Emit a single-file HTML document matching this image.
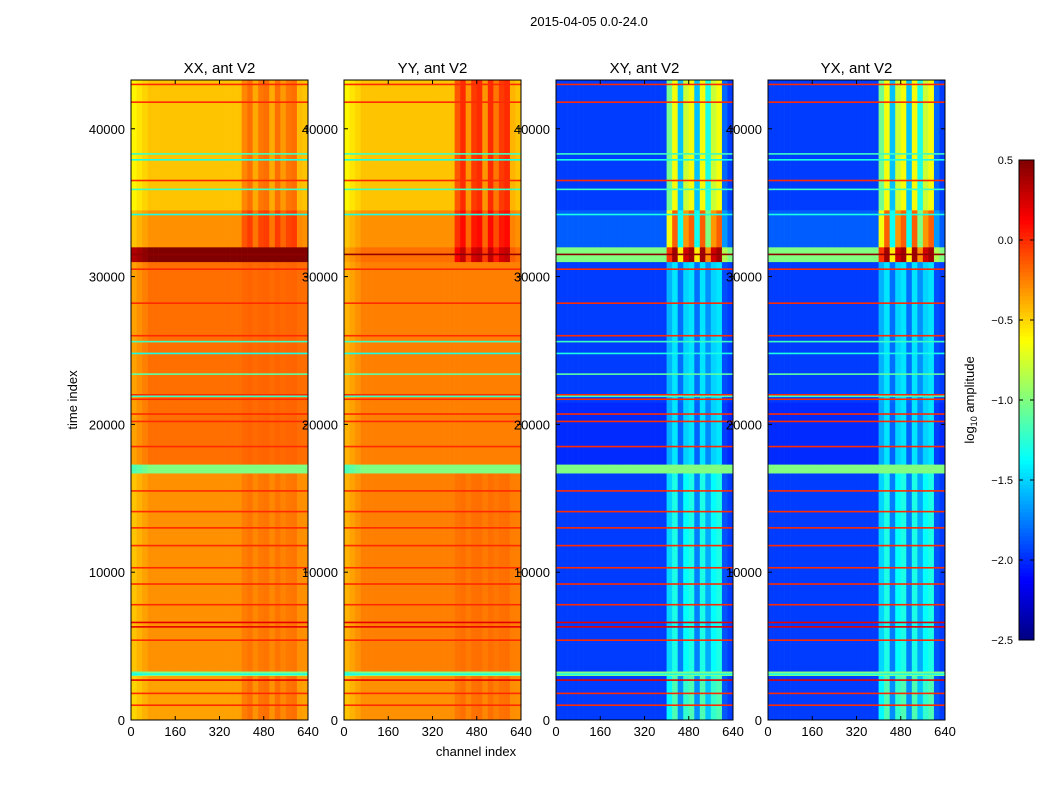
<!DOCTYPE html>
<html><head><meta charset="utf-8">
<style>
body{margin:0;background:#fff;font-family:"Liberation Sans",sans-serif;}
svg text{font-family:"Liberation Sans",sans-serif;}
</style></head>
<body>
<svg id="fig" xmlns="http://www.w3.org/2000/svg" width="1050" height="800" viewBox="0 0 1050 800">
<rect width="1050" height="800" fill="#fff"/>
<text x="589" y="26" font-size="13" text-anchor="middle">2015-04-05 0.0-24.0</text>
<text x="476" y="756" font-size="13" text-anchor="middle">channel index</text>
<text transform="translate(77,400) rotate(-90)" font-size="13" text-anchor="middle">time index</text>
<text transform="translate(974,400) rotate(-90)" font-size="13" text-anchor="middle">log<tspan font-size="9" dy="3">10</tspan><tspan dy="-3"> amplitude</tspan></text>
<g id="panels"></g>
<g id="cbar"></g>
</svg>
<script>
// ---- data ----
const panelNames = ["XX, ant V2","YY, ant V2","XY, ant V2","YX, ant V2"];
const xTicks = [0,160,320,480,640];
const yTicks = [0,10000,20000,30000,40000];
const cbTicks = [0.5,0.0,-0.5,-1.0,-1.5,-2.0,-2.5];
const bandStart = [0,3000,3300,16700,17300,21500,31000,32000,34500];
const bandEnd   = [3000,3300,16700,17300,21500,31000,32000,34500,43300];
const baseXX = [-0.35,-1.0,-0.3,-1.0,-0.2,-0.2,0.5,-0.3,-0.45];
const baseYY = [-0.3,-1.0,-0.25,-1.0,-0.25,-0.25,-0.2,-0.3,-0.45];
const baseXY = [-1.95,-1.0,-1.95,-1.0,-2.0,-1.95,-1.0,-1.85,-1.95];
const baseYX = [-1.95,-1.0,-1.95,-1.0,-2.0,-1.95,-1.0,-1.85,-1.95];
const hotXX = [0.15,0,0.08,0,0.03,0.03,0,0.25,0.25];
const hotYY = [0.1,0,0.05,0,0,0,0.5,0.4,0.45];
const hotXY = [0.8,0,0.65,0,0.55,0.5,1.4,1.7,1.3];
const hotYX = [0.8,0,0.65,0,0.55,0.5,1.4,1.7,1.3];
const chanProfile = [-0.15,-0.1,-0.05,0,0,0,0,0,0,0,0,0,0,0,0,0,0,0,0,0,
                     0.7,1.0,0.3,0.9,1.0,0.3,1.0,0.5,0.9,1.0,0.1,0];
const redLines = [1000,1800,2700,5400,6300,6600,7800,9200,10300,11800,13000,14100,15500,18500,20200,20700,21700,22000,26000,28200,30500,31500,36500,41800,43000];
const redVals  = [0,0,0.2,0,0.2,0.2,0,0,0,0,0,0,0,0,0,0,0,0,0,0,0,0.45,0,0,0];
const cyanLines = [3100,21900,23400,24800,25600,34200,35900,37900,38300];
const cyanVals = [-1.3,-1.2,-1.1,-1.3,-1.2,-1.3,-1.2,-1.3,-1.2];

// ---- layout ----
const panelX0 = [131,344,556,768], panelW = 177, py0 = 80, py1 = 720;
const tMax = 43300, cMax = 640, binW = 20;
const vmin = -2.5, vmax = 0.5;
const NS = "http://www.w3.org/2000/svg";
function el(tag, attrs, parent){const e=document.createElementNS(NS,tag);for(const k in attrs)e.setAttribute(k,attrs[k]);parent.appendChild(e);return e;}
function jet(v){
  let t=(v-vmin)/(vmax-vmin); t=Math.max(0,Math.min(1,t));
  const f=x=>Math.max(0,Math.min(1,x));
  const r=f(Math.min(4*t-1.5,-4*t+4.5)), g=f(Math.min(4*t-0.5,-4*t+3.5)), b=f(Math.min(4*t+0.5,-4*t+2.5));
  return `rgb(${Math.round(r*255)},${Math.round(g*255)},${Math.round(b*255)})`;
}
const bases=[baseXX,baseYY,baseXY,baseYX], hots=[hotXX,hotYY,hotXY,hotYX];
const panelsG=document.getElementById('panels');
panelNames.forEach((name,p)=>{
  const x0=panelX0[p];
  const xs=c=>x0+c/cMax*panelW;
  const ys=t=>py1-t/tMax*(py1-py0);
  const g=el('g',{},panelsG);
  
  
  for(let b=0;b<bandStart.length;b++){
    for(let i=0;i<chanProfile.length;i++){
      const c0=i*binW;
      const prof = i>=20&&i<=31 ? chanProfile[i]*hots[p][b] : (p<2?chanProfile[i]:0);
      const v=bases[p][b]+prof;
      const r=el('rect',{x:xs(c0),y:ys(bandEnd[b]),width:xs(c0+binW)-xs(c0)+0.3,height:ys(bandStart[b])-ys(bandEnd[b])+0.3,fill:jet(v)},g);
      
      
    }
  }
  redLines.forEach((t,k)=>{
    const r=el('rect',{x:x0,y:ys(t)-0.8,width:panelW,height:1.6,fill:jet(redVals[k])},g);
    
    
  });
  cyanLines.forEach((t,k)=>{
    const r=el('rect',{x:x0,y:ys(t)-0.8,width:panelW,height:1.6,fill:jet(cyanVals[k])},g);
    
    
  });
  const fr=el('rect',{x:x0,y:py0,width:panelW,height:py1-py0,fill:'none',stroke:'#000','stroke-width':1},g);
  
  
  const tt=el('text',{x:x0+panelW/2,y:py0-7,'font-size':15,'text-anchor':'middle'},g);
  tt.textContent=name;
  
  
  xTicks.forEach(v=>{
    const x=xs(v);
    el('line',{x1:x,x2:x,y1:py1,y2:py1-4,stroke:'#000'},g);
    el('line',{x1:x,x2:x,y1:py0,y2:py0+4,stroke:'#000'},g);
    const t=el('text',{x:x,y:py1+16,'font-size':13,'text-anchor':'middle'},g);
    t.textContent=v;
    
    
  });
  yTicks.forEach(v=>{
    const y=ys(v);
    el('line',{x1:x0,x2:x0+4,y1:y,y2:y,stroke:'#000'},g);
    el('line',{x1:x0+panelW,x2:x0+panelW-4,y1:y,y2:y,stroke:'#000'},g);
    const t=el('text',{x:x0-6,y:y+5,'font-size':13,'text-anchor':'end'},g);
    t.textContent=v;
    
    
  });
});
// colorbar
const cb=document.getElementById('cbar');
const cbx=1019,cbw=15,cby0=160,cby1=640;
const cys=v=>cby1-(v-vmin)/(vmax-vmin)*(cby1-cby0);
for(let i=0;i<120;i++){
  const v0=vmin+i*(vmax-vmin)/120, v1=vmin+(i+1)*(vmax-vmin)/120;
  const r=el('rect',{x:cbx,y:cys(v1),width:cbw,height:cys(v0)-cys(v1)+0.5,fill:jet((v0+v1)/2)},cb);
  
  
}
const cf=el('rect',{x:cbx,y:cby0,width:cbw,height:cby1-cby0,fill:'none',stroke:'#000'},cb);


cbTicks.forEach(v=>{
  const y=cys(v);
  el('line',{x1:cbx,x2:cbx+4,y1:y,y2:y,stroke:'#000'},cb);
  el('line',{x1:cbx+cbw,x2:cbx+cbw-4,y1:y,y2:y,stroke:'#000'},cb);
  const t=el('text',{x:cbx-6,y:y+4,'font-size':11,'text-anchor':'end'},cb);
  t.textContent=v.toFixed(1).replace('-','\u2212');
  
  
});
</script>
</body></html>
